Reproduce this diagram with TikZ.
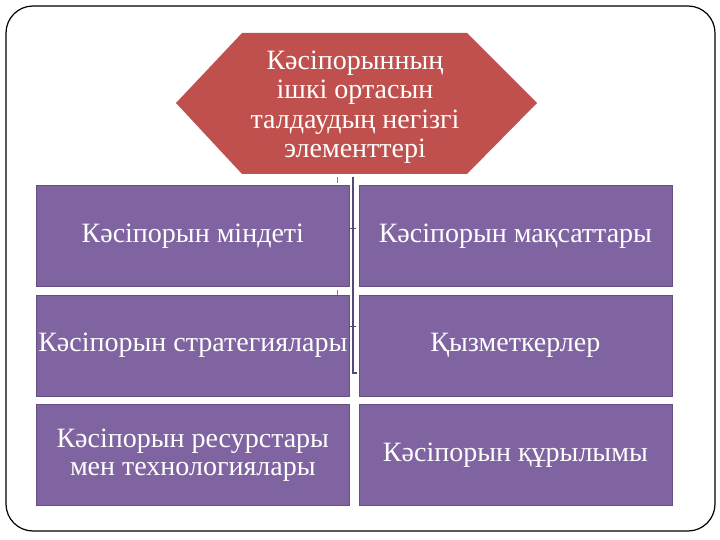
\documentclass[tikz,border=0pt]{standalone}
\usepackage{fontspec}
\setmainfont{Liberation Serif}
\usetikzlibrary{positioning}
\definecolor{hexred}{HTML}{C0504D}
\definecolor{boxpurple}{HTML}{8064A2}
\definecolor{linkgray}{HTML}{55477A}

\begin{document}
\begin{tikzpicture}[
    x=1pt, y=-1pt,
    box/.style={fill=boxpurple, draw=boxpurple!80!black, line width=0.6pt,
      minimum width=313pt, minimum height=101pt, inner sep=0pt,
      text=white, align=center, font=\fontsize{28}{28}\selectfont},
    title/.style={text=white, align=center, font=\fontsize{28}{29.5}\selectfont},
    link/.style={draw=linkgray, line width=1.2pt}
  ]
  \useasboundingbox (0,0) rectangle (720,540);

  % Frame
  \draw[line width=1.2pt, rounded corners=27pt] (6,6) rectangle (715,531);

  % Hexagon
  \fill[hexred] (176,103) -- (242,33) -- (467,33) -- (537,103) -- (467,174) -- (242,174) -- cycle;
  \node[title] (title) at (355,107) {Кәсіпорынның\\ішкі ортасын\\талдаудың негізгі\\элементтері};

  % Boxes
  \node[box, anchor=north west] (mission) at (36,185) {Кәсіпорын міндеті};
  \node[box, right=9pt of mission] (goals) {Кәсіпорын мақсаттары};
  \node[box, below=8pt of mission] (strategy) {Кәсіпорын стратегиялары};
  \node[box, right=9pt of strategy] (staff) {Қызметкерлер};
  \node[box, below=8pt of strategy] (resources) {Кәсіпорын ресурстары\\мен технологиялары};
  \node[box, right=9pt of resources] (structure) {Кәсіпорын құрылымы};

  % Connector
  \coordinate (hub) at (353,177);
  \coordinate (hubend) at (353,373);
  \draw[link] (hub) -- (hubend) -- ++(4,0);
  \draw[link, line width=0.6pt] ([xshift=-3pt, yshift=7pt]hub |- mission.east) -- ++(6,0);
  \draw[link, line width=0.6pt] ([xshift=-3pt, yshift=19pt]hub |- strategy.east) -- ++(6,0);
  \draw[gray, line width=0.6pt] ([xshift=-16pt]hub) -- ++(0,6);
  \draw[gray, line width=0.6pt] ([xshift=-16pt]hub |- strategy.north) -- ++(0,-5);

\end{tikzpicture}
\end{document}
